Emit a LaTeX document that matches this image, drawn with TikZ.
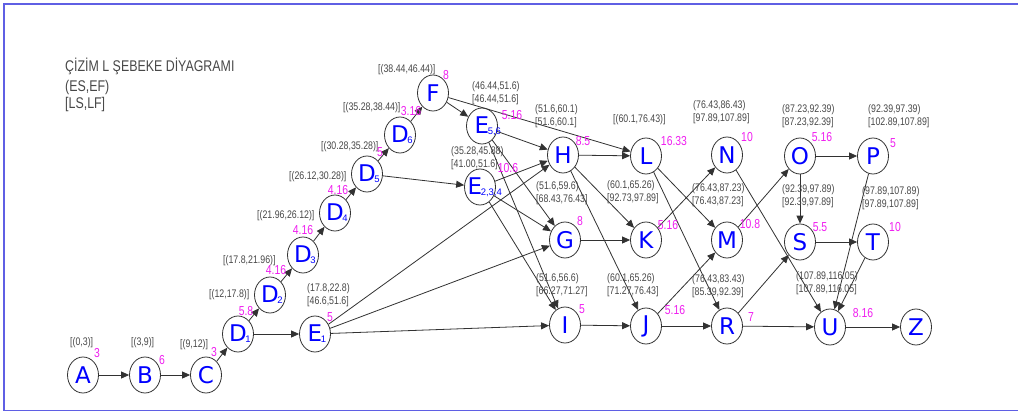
\documentclass[tikz,border=0pt]{standalone}
\usepackage{fontspec}
\setmainfont{Liberation Sans}
\newfontfamily\condfont[FakeStretch=0.8]{Liberation Sans}
\newfontfamily\letterfont{DejaVu Sans}
\usetikzlibrary{shapes.geometric,arrows.meta}

\definecolor{framecol}{RGB}{95,95,228}
\definecolor{linecol}{RGB}{50,50,50}
\definecolor{txtgray}{RGB}{72,72,72}
\definecolor{durcol}{RGB}{240,30,240}
\definecolor{letcol}{RGB}{0,0,255}

\tikzset{
  ev/.style={ellipse, draw=linecol, fill=white, line width=0.8pt,
    minimum width=31pt, minimum height=36pt, inner sep=0pt},
  letter/.style={text=letcol, font=\letterfont\fontsize{23}{23}\selectfont, inner sep=0pt},
  arr/.style={draw=linecol, line width=0.8pt, -{Triangle[length=8pt,width=7pt]}},
  times/.style={text=txtgray, font=\condfont\fontsize{11}{12.5}\selectfont,
    inner sep=0pt, anchor=west, align=left},
  dur/.style={text=durcol, font=\condfont\fontsize{13}{13}\selectfont, inner sep=0pt},
  title/.style={text=txtgray, font=\condfont\fontsize{15.5}{17}\selectfont,
    inner sep=0pt, anchor=west},
}
% subscript hanging to the right of an event letter
\newcommand\nsub[1]{\rlap{\kern-1.5pt\raisebox{-1pt}{\rmfamily\fontsize{9.5}{9.5}\selectfont #1}}}
% event: ellipse plus its letter
\newcommand\evt[4]{\node[ev] (#1) at (#2,#3) {};
  \node[letter] (#1-name) at (#1) {#4};}
% line break before a bracketed line
\newcommand\nl{\\\relax}

\begin{document}
\begin{tikzpicture}[x=1pt,y=-1pt]
\useasboundingbox (0,0) rectangle (1018,412);
\fill[white] (0,0) rectangle (1018,412);

% frame
\draw[framecol, line width=1.5pt] (1030,4) -- (4,4) -- (4,410.5) -- (1030,410.5);

% heading
\node[title] (t1) at (65,66) {ÇİZİM L ŞEBEKE DİYAGRAMI};
\node[title] (t2) at (65,87) {(ES,EF)};
\node[title] (t3) at (65,104) {[LS,LF]};

% events
\evt{A}{83}{375}{A}
\evt{B}{145}{375}{B}
\evt{C}{206}{375}{C}
\evt{D1}{238}{334}{D\nsub{1}}
\evt{E1}{315}{334}{E\nsub{1}}
\evt{D2}{270}{295}{D\nsub{2}}
\evt{D3}{303}{255}{D\nsub{3}}
\evt{D4}{335}{213}{D\nsub{4}}
\evt{D5}{367}{174}{D\nsub{5}}
\evt{D6}{400}{135}{D\nsub{6}}
\evt{F}{433}{93}{F}
\evt{E56}{482}{126}{E\nsub{5,6}}
\node[ev] (E234) at (480,187) {};
\node[letter, xshift=-5pt] (E234-name) at (E234) {E\nsub{2,3,4}};
\evt{H}{563}{155}{H}
\evt{G}{565}{240}{G}
\evt{I}{565}{325}{I}
\evt{L}{646}{156}{L}
\evt{K}{646}{240}{K}
\evt{J}{646}{326}{J}
\evt{N}{727}{155}{N}
\evt{M}{727}{240}{M}
\evt{R}{727}{326}{R}
\evt{O}{800}{156}{O}
\evt{P}{873}{156}{P}
\evt{S}{800}{242}{S}
\evt{T}{873}{242}{T}
\evt{U}{830}{327}{U}
\evt{Z}{916}{327}{Z}

% activities
\draw[arr] (A) -- (B);
\draw[arr] (B) -- (C);
\draw[arr] (C) -- (D1);
\draw[arr] (D1) -- (D2);
\draw[arr] (D2) -- (D3);
\draw[arr] (D3) -- (D4);
\draw[arr] (D4) -- (D5);
\draw[arr] (D5) -- (D6);
\draw[arr] (D6) -- (F);
\draw[arr] (F) -- (E56);
\draw[arr] (F) -- (L);
\draw[arr] (D1) -- (E1);
\draw[arr] (D5) -- (E234);
\draw[arr] (E56) -- (H);
\draw[arr] (E56) -- (G);
\draw[arr] (E56) -- (I);
\draw[arr] (E234) -- (H);
\draw[arr] (E234) -- (G);
\draw[arr] (E234) -- (I);
\draw[arr] (E1) -- (H);
\draw[arr] (E1) -- (G);
\draw[arr] (E1) -- (I);
\draw[arr] (H) -- (L);
\draw[arr] (H) -- (K);
\draw[arr] (H) -- (J);
\draw[arr] (G) -- (K);
\draw[arr] (I) -- (J);
\draw[arr] (L) -- (M);
\draw[arr] (L) -- (R);
\draw[arr] (K) -- (N);
\draw[arr] (J) -- (M);
\draw[arr] (J) -- (R);
\draw[arr] (N) -- (U);
\draw[arr] (M) -- (O);
\draw[arr] (R) -- (S);
\draw[arr] (R) -- (U);
\draw[arr] (O) -- (P);
\draw[arr] (O) -- (S);
\draw[arr] (S) -- (T);
\draw[arr] (P) -- (U);
\draw[arr] (T) -- (U);
\draw[arr] (U) -- (Z);

% early / late times
\node[times] (tA) at (70,343) {[(0,3)]};
\node[times] (tB) at (131,343) {[(3,9)]};
\node[times] (tC) at (180,345) {[(9,12)]};
\node[times] (tD1) at (209,295) {[(12,17.8)]};
\node[times] (tD2) at (223,261) {[(17.8,21.96)]};
\node[times] (tD3) at (257,216) {[(21.96,26.12)]};
\node[times] (tD4) at (289,177) {[(26.12,30.28)]};
\node[times] (tD5) at (321,147) {[(30.28,35.28)]};
\node[times] (tD6) at (343,108) {[(35.28,38.44)]};
\node[times] (tF) at (378,70) {[(38.44,46.44)]};
\node[times] (tL) at (613,120) {[(60.1,76.43)]};
\node[times] (tE1) at (307,295) {(17.8,22.8)\nl[46.6,51.6]};
\node[times] (tE56) at (472,93) {(46.44,51.6)\nl[46.44,51.6]};
\node[times] (tE234) at (451,158) {(35.28,45.88)\nl[41.00,51.6]};
\node[times] (tH) at (535,116) {(51.6,60.1)\nl[51.6,60.1]};
\node[times] (tG) at (536,193) {(51.6,59.6)\nl[68.43,76.43]};
\node[times] (tI) at (536,285) {(51.6,56.6)\nl[66.27,71.27]};
\node[times] (tK) at (607,192) {(60.1,65.26)\nl[92.73,97.89]};
\node[times] (tJ) at (607,285) {(60.1,65.26)\nl[71.27,76.43]};
\node[times] (tN) at (693,112) {(76.43,86.43)\nl[97.89,107.89]};
\node[times] (tM) at (692,195) {(76.43,87.23)\nl[76.43,87.23]};
\node[times] (tR) at (692,286) {(76.43,83.43)\nl[85.39,92.39]};
\node[times] (tO) at (782,116) {(87.23,92.39)\nl[87.23,92.39]};
\node[times] (tP) at (868,116) {(92.39,97.39)\nl[102.89,107.89]};
\node[times] (tS) at (782,196) {(92.39,97.89)\nl[92.39,97.89]};
\node[times] (tT) at (862,198) {(97.89,107.89)\nl[97.89,107.89]};
\node[times] (tU) at (796,283) {(107.89,116.05)\nl[107.89,116.05]};

% durations
\node[dur] (dA) at (97,353) {3};
\node[dur] (dB) at (162,360) {6};
\node[dur] (dC) at (214,352) {3};
\node[dur] (dD1) at (246,311) {5.8};
\node[dur] (dD2) at (276,270) {4.16};
\node[dur] (dD3) at (303,230) {4.16};
\node[dur] (dD4) at (338,190) {4.16};
\node[dur] (dD5) at (380,152) {5};
\node[dur] (dD6) at (411,111) {3.16};
\node[dur] (dF) at (446,75) {8};
\node[dur] (dE56) at (512,115) {5.16};
\node[dur] (dE234) at (508,168) {10.6};
\node[dur] (dE1) at (330,317) {5};
\node[dur] (dH) at (583,141) {8.5};
\node[dur] (dG) at (580,221) {8};
\node[dur] (dI) at (582,309) {5};
\node[dur] (dL) at (674,141) {16.33};
\node[dur] (dK) at (668,225) {5.16};
\node[dur] (dJ) at (675,310) {5.16};
\node[dur] (dN) at (747,137) {10};
\node[dur] (dM) at (750,224) {10.8};
\node[dur] (dR) at (751,317) {7};
\node[dur] (dO) at (822,137) {5.16};
\node[dur] (dP) at (893,143) {5};
\node[dur] (dS) at (820,227) {5.5};
\node[dur] (dT) at (895,227) {10};
\node[dur] (dU) at (863,313) {8.16};
\end{tikzpicture}
\end{document}
